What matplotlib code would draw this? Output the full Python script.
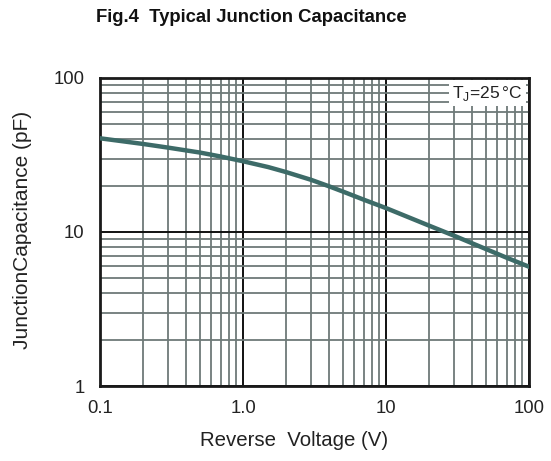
import matplotlib
matplotlib.use("Agg")
import matplotlib.pyplot as plt
from matplotlib.ticker import FixedLocator, FixedFormatter, LogLocator, NullFormatter

voltage = [0.1, 0.2, 0.3, 0.5, 0.7, 1, 1.5, 2, 3, 4, 5, 7, 10, 20, 30, 50, 70, 100]
capacitance = [40.6, 37.3, 35.3, 32.8, 30.9, 28.8, 26.4, 24.5, 21.8, 19.8, 18.3, 16.2,
               14.3, 11.0, 9.45, 7.75, 6.8, 5.95]
x_ticks = [0.1, 1, 10, 100]
x_tick_labels = ["0.1", "1.0", "10", "100"]
y_ticks = [1, 10, 100]
y_tick_labels = ["1", "10", "100"]

plt.rcParams['font.family'] = ['Liberation Sans', 'DejaVu Sans']

W, H = 551, 461
fig = plt.figure(figsize=(W/100, H/100), dpi=100)
ax = fig.add_axes([100/W, 1-386/H, 429/W, 308/H])
ax.set_xscale('log')
ax.set_yscale('log')
ax.set_xlim(0.1, 100)
ax.set_ylim(1, 100)

ax.xaxis.set_major_locator(FixedLocator(x_ticks))
ax.xaxis.set_major_formatter(FixedFormatter(x_tick_labels))
ax.yaxis.set_major_locator(FixedLocator(y_ticks))
ax.yaxis.set_major_formatter(FixedFormatter(y_tick_labels))
ax.xaxis.set_minor_locator(LogLocator(base=10, subs=range(2, 10)))
ax.yaxis.set_minor_locator(LogLocator(base=10, subs=range(2, 10)))
ax.xaxis.set_minor_formatter(NullFormatter())
ax.yaxis.set_minor_formatter(NullFormatter())

ax.grid(which='minor', color='#6e7a78', linewidth=1.3)
ax.grid(which='major', color='#111111', linewidth=1.4)
ax.tick_params(which='both', length=0, labelsize=13.3, labelcolor='#222222')
ax.tick_params(axis='x', pad=10)
ax.tick_params(axis='y', pad=11)
for s in ax.spines.values():
    s.set_linewidth(2)
    s.set_color('#1a1a1a')

ax.plot(voltage, capacitance, color='#3d6b68', linewidth=3.2, zorder=3)

ax.text(0.985, 0.95, r"T$_\mathregular{J}$=25$\,$°C", transform=ax.transAxes,
        ha='right', va='center', fontsize=12.5, color='#222222',
        bbox=dict(facecolor='white', edgecolor='none', pad=2.5), zorder=4)

fig.text(294/W, 1-440/H, "Reverse  Voltage (V)", ha='center', va='center',
         fontsize=14.7, color='#222222')
fig.text(23/W, 1-230/H, "JunctionCapacitance (pF)", ha='center', va='center',
         rotation=90, fontsize=15, color='#222222')

fig.text(251.5/W, 1-18/H, "Fig.4  Typical Junction Capacitance", ha='center', va='center',
         fontsize=13.3, fontweight='bold', color='#111111')

fig.savefig("out.png", dpi=100)
